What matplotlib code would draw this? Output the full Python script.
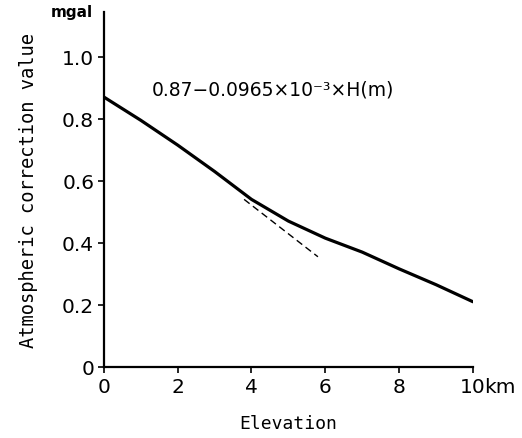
import matplotlib
matplotlib.use("Agg")
import matplotlib.pyplot as plt

# curve (km, mgal)
elev_km = [0, 1, 2, 3, 4, 5, 6, 7, 8, 9, 10]
corr = [0.87, 0.795, 0.715, 0.63, 0.54, 0.47, 0.415, 0.37, 0.316, 0.265, 0.21]

# dashed tangent segment
tan_x = [3.8, 5.8]
tan_y = [0.54, 0.355]

xticks = [0, 2, 4, 6, 8, 10]
xlabels = ["0", "2", "4", "6", "8", "10"]
yticks = [0, 0.2, 0.4, 0.6, 0.8, 1.0]
ylabels = ["0", "0.2", "0.4", "0.6", "0.8", "1.0"]

fig = plt.figure(figsize=(5.22, 4.39), dpi=100)
ax = fig.add_axes([0.199, 0.162, 0.707, 0.809])

ax.plot(elev_km, corr, color="black", lw=2.3, solid_capstyle="round")
ax.plot(tan_x, tan_y, color="black", lw=1.0, dashes=(5, 3))

ax.set_xlim(0, 10)
ax.set_ylim(0, 1.145)
ax.spines["top"].set_visible(False)
ax.spines["right"].set_visible(False)
for s in ("left", "bottom"):
    ax.spines[s].set_linewidth(1.6)

ax.set_xticks(xticks)
ax.set_xticklabels(xlabels)
ax.set_yticks(yticks)
ax.set_yticklabels(ylabels)
ax.tick_params(direction="out", length=4, width=1.2, labelsize=14.5, pad=3)

ax.annotate("km", xy=(10, 0), xytext=(8.2, -7), textcoords="offset points",
            ha="left", va="top", fontsize=14.5)
ax.annotate("mgal", xy=(0, 1), xycoords="axes fraction", xytext=(-8, 0),
            textcoords="offset points", ha="right", va="center",
            fontsize=11, fontweight="bold")

ax.text(1.3, 0.895, "0.87\u22120.0965\u00d710\u207b\u00b3\u00d7H(m)",
        fontsize=13.5, va="center", ha="left")

mono = "DejaVu Sans Mono"
ax.set_xlabel("Elevation", family=mono, fontsize=13, labelpad=13)
ax.set_ylabel("Atmospheric correction value", family=mono, fontsize=13.5,
              labelpad=17)

fig.savefig("out.png", dpi=100, facecolor="white")
